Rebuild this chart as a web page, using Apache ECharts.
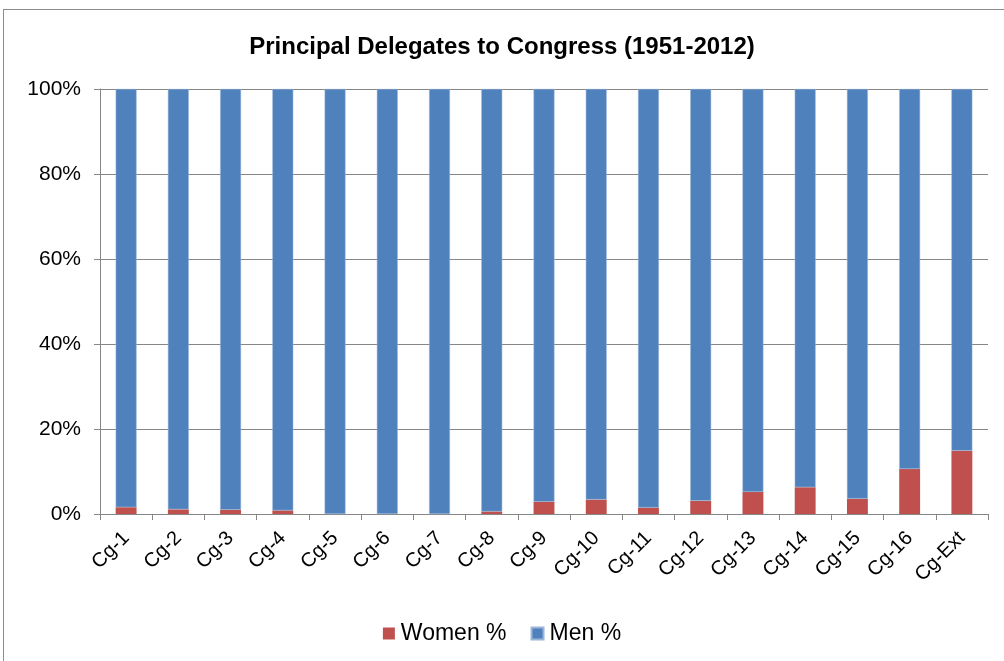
<!DOCTYPE html>
<html>
<head>
<meta charset="utf-8">
<script src="https://cdn.jsdelivr.net/npm/echarts@6/dist/echarts.min.js"></script>
<style>
  html, body { margin: 0; padding: 0; background: #fff; overflow: hidden; }
  #chart { width: 1004px; height: 661px; }
  .frame { position: absolute; left: 3px; top: 9px; width: 1010px; height: 660px; border: 1px solid #8c8c8c; box-sizing: border-box; pointer-events: none; }
</style>
</head>
<body>
<div id="chart"></div>
<div class="frame"></div>
<script>
// categories (congresses)
const categories = ['Cg-1', 'Cg-2', 'Cg-3', 'Cg-4', 'Cg-5', 'Cg-6', 'Cg-7', 'Cg-8', 'Cg-9',
  'Cg-10', 'Cg-11', 'Cg-12', 'Cg-13', 'Cg-14', 'Cg-15', 'Cg-16', 'Cg-Ext']
// share of women, in %
const womenPct = [1.6, 1.1, 1.0, 0.85, 0, 0, 0, 0.6, 2.9, 3.4, 1.5, 3.1, 5.2, 6.3, 3.6, 10.6, 14.9]
// share of men, in %
const menPct = [98.4, 98.9, 99.0, 99.15, 100, 100, 100, 99.4, 97.1, 96.6, 98.5, 96.9, 94.8, 93.7, 96.4, 89.4, 85.1]
const yTicks = [0, 20, 40, 60, 80, 100]

const chart = echarts.init(document.getElementById('chart'))
const font = 'Liberation Sans, Arial, sans-serif'

const option = {
  animation: false,
  title: {
    text: 'Principal Delegates to Congress (1951-2012)',
    left: 'center',
    top: 30,
    textStyle: { fontFamily: font, fontSize: 24, fontWeight: 'bold', color: '#000' }
  },
  legend: {
    data: ['Women %', 'Men %'],
    bottom: 11,
    left: 'center',
    itemWidth: 12,
    itemHeight: 12,
    itemGap: 24,
    icon: 'rect',
    textStyle: { fontFamily: font, fontSize: 23, color: '#000', padding: [0, 0, 0, 1] }
  },
  grid: { left: 100, right: 16, top: 89, bottom: 147 },
  xAxis: {
    type: 'category',
    data: categories,
    axisLine: { lineStyle: { color: '#868686', width: 1 } },
    axisTick: { show: true, length: 6, lineStyle: { color: '#868686' } },
    axisLabel: { rotate: 45, fontFamily: font, fontSize: 20, color: '#000', margin: 21, interval: 0 }
  },
  yAxis: {
    type: 'value',
    min: 0,
    max: 100,
    interval: 20,
    axisLine: { show: true, lineStyle: { color: '#868686' } },
    axisTick: { show: true, length: 6, lineStyle: { color: '#868686' } },
    splitLine: { lineStyle: { color: '#868686' } },
    axisLabel: {
      fontFamily: font, fontSize: 21, color: '#000', margin: 19,
      formatter: v => (yTicks.includes(v) ? v + '%' : '')
    }
  },
  series: [
    {
      name: 'Women %',
      type: 'bar',
      stack: 'all',
      data: womenPct,
      barWidth: '40%',
      itemStyle: { color: '#c0504d' }
    },
    {
      name: 'Men %',
      type: 'bar',
      stack: 'all',
      data: menPct,
      barWidth: '40%',
      itemStyle: { color: '#4f81bd', borderColor: '#9bb6d8', borderWidth: 0.5 }
    }
  ]
}
chart.setOption(option)
</script>
</body>
</html>
